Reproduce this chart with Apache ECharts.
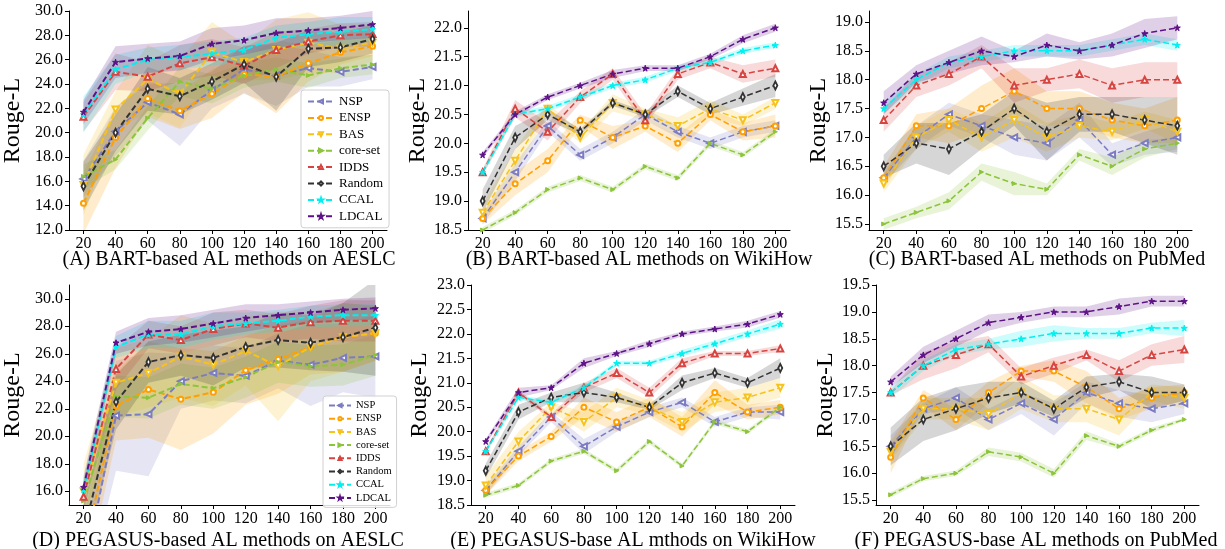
<!DOCTYPE html>
<html>
<head>
<meta charset="utf-8">
<script src="https://cdn.jsdelivr.net/npm/echarts@6/dist/echarts.min.js"></script>
<style>
  html, body { margin: 0; padding: 0; background: #fff; }
  #main { width: 1225px; height: 549px; }
</style>
</head>
<body>
<div id="main"></div>
<script>
// budget on x, one row per method (NSP, ENSP, BAS, core-set, IDDS, Random, CCAL, LDCAL)
const xValues = [20, 40, 60, 80, 100, 120, 140, 160, 180, 200];
const methods = ['NSP', 'ENSP', 'BAS', 'core-set', 'IDDS', 'Random', 'CCAL', 'LDCAL'];

const bartAeslcMean = [
  [16.2, 20.1, 22.5, 21.5, 23.5, 25.2, 24.7, 25.3, 25.0, 25.4],
  [14.2, 19.6, 22.8, 21.8, 23.2, 24.8, 24.6, 25.7, 26.6, 27.1],
  [15.7, 21.9, 24.4, 23.2, 26.6, 25.8, 26.8, 27.4, 26.9, 27.4],
  [16.4, 17.8, 21.2, 24.2, 23.6, 24.7, 25.2, 24.7, 25.3, 25.6],
  [21.3, 25.0, 24.6, 25.7, 26.2, 25.5, 26.8, 27.5, 28.0, 28.1],
  [15.6, 20.0, 23.6, 23.0, 24.2, 25.6, 24.6, 26.9, 27.0, 27.7],
  [21.5, 25.2, 26.0, 26.2, 26.5, 26.8, 27.8, 28.1, 28.3, 28.5],
  [21.7, 25.8, 26.1, 26.3, 27.3, 27.6, 28.2, 28.4, 28.6, 28.9]
];
const bartAeslcSpread = [
  [1.5, 2.0, 1.5, 2.6, 1.5, 2.0, 2.5, 1.5, 1.2, 1.0],
  [2.5, 2.5, 1.5, 1.5, 2.0, 1.5, 3.0, 1.5, 1.0, 0.8],
  [2.5, 1.5, 2.8, 2.8, 2.5, 1.5, 2.5, 2.5, 2.0, 1.5],
  [1.0, 0.8, 1.0, 1.2, 1.2, 1.0, 1.0, 1.0, 0.8, 0.8],
  [1.2, 1.5, 1.2, 1.5, 1.5, 1.5, 1.5, 1.0, 1.0, 1.0],
  [2.0, 1.5, 1.8, 1.5, 1.5, 1.5, 2.8, 1.5, 1.2, 1.2],
  [1.5, 1.2, 1.0, 1.0, 1.0, 1.0, 1.0, 1.0, 1.2, 1.0],
  [1.0, 1.3, 1.2, 1.2, 1.3, 1.2, 1.2, 1.0, 1.0, 1.1]
];

const bartWikiMean = [
  [18.7, 19.5, 20.3, 19.8, 20.1, 20.5, 20.2, 20.0, 20.2, 20.3],
  [18.7, 19.3, 19.7, 20.4, 20.1, 20.3, 20.0, 20.5, 20.2, 20.3],
  [18.8, 19.7, 20.6, 20.1, 20.7, 20.5, 20.3, 20.6, 20.4, 20.7],
  [18.5, 18.8, 19.2, 19.4, 19.2, 19.6, 19.4, 20.0, 19.8, 20.2],
  [19.5, 20.6, 20.2, 20.8, 21.2, 20.4, 21.2, 21.4, 21.2, 21.3],
  [19.0, 20.1, 20.5, 20.2, 20.7, 20.5, 20.9, 20.6, 20.8, 21.0],
  [19.5, 20.5, 20.6, 20.8, 21.0, 21.1, 21.3, 21.4, 21.6, 21.7],
  [19.8, 20.5, 20.8, 21.0, 21.2, 21.3, 21.3, 21.5, 21.8, 22.0]
];
const bartWikiSpread = [
  [0.1, 0.15, 0.1, 0.1, 0.1, 0.1, 0.1, 0.1, 0.1, 0.1],
  [0.1, 0.2, 0.2, 0.1, 0.2, 0.1, 0.15, 0.1, 0.15, 0.2],
  [0.15, 0.2, 0.1, 0.1, 0.15, 0.1, 0.15, 0.15, 0.1, 0.1],
  [0.05, 0.05, 0.05, 0.05, 0.05, 0.05, 0.05, 0.05, 0.05, 0.05],
  [0.05, 0.15, 0.15, 0.1, 0.1, 0.1, 0.1, 0.1, 0.15, 0.15],
  [0.2, 0.2, 0.1, 0.05, 0.05, 0.05, 0.1, 0.1, 0.15, 0.2],
  [0.05, 0.05, 0.05, 0.05, 0.05, 0.05, 0.05, 0.05, 0.05, 0.05],
  [0.05, 0.05, 0.05, 0.05, 0.07, 0.05, 0.05, 0.05, 0.07, 0.07]
];

const bartPubmedMean = [
  [16.3, 17.0, 17.4, 17.2, 17.0, 16.9, 17.3, 16.7, 16.9, 17.0],
  [16.3, 17.2, 17.2, 17.5, 17.8, 17.5, 17.5, 17.3, 17.2, 17.3],
  [16.2, 17.0, 17.3, 17.0, 17.3, 17.0, 17.2, 17.1, 17.3, 17.1],
  [15.5, 15.7, 15.9, 16.4, 16.2, 16.1, 16.7, 16.5, 16.8, 16.9],
  [17.3, 17.9, 18.1, 18.4, 17.9, 18.0, 18.1, 17.9, 18.0, 18.0],
  [16.5, 16.9, 16.8, 17.1, 17.5, 17.1, 17.4, 17.4, 17.3, 17.2],
  [17.5, 18.0, 18.3, 18.4, 18.5, 18.5, 18.5, 18.6, 18.7, 18.6],
  [17.6, 18.1, 18.3, 18.5, 18.4, 18.6, 18.5, 18.6, 18.8, 18.9]
];
const bartPubmedSpread = [
  [0.1, 0.2, 0.2, 0.2, 0.3, 0.3, 0.3, 0.2, 0.2, 0.25],
  [0.2, 0.2, 0.3, 0.4, 0.4, 0.3, 0.3, 0.3, 0.3, 0.4],
  [0.15, 0.2, 0.2, 0.25, 0.3, 0.25, 0.2, 0.15, 0.15, 0.2],
  [0.1, 0.1, 0.15, 0.15, 0.2, 0.1, 0.1, 0.15, 0.15, 0.1],
  [0.2, 0.2, 0.2, 0.2, 0.3, 0.2, 0.25, 0.3, 0.3, 0.3],
  [0.2, 0.35, 0.45, 0.3, 0.3, 0.5, 0.3, 0.3, 0.4, 0.5],
  [0.1, 0.1, 0.1, 0.1, 0.1, 0.1, 0.1, 0.1, 0.1, 0.1],
  [0.2, 0.15, 0.2, 0.25, 0.1, 0.2, 0.15, 0.2, 0.25, 0.2]
];

const pegAeslcMean = [
  [10.0, 21.5, 21.6, 24.0, 24.6, 24.4, 25.5, 25.2, 25.7, 25.8],
  [11.5, 22.2, 23.4, 22.7, 23.2, 24.8, 25.6, 26.5, 27.2, 27.5],
  [16.0, 23.9, 24.6, 25.8, 25.2, 26.2, 25.1, 26.5, 27.2, 27.5],
  [15.3, 22.9, 22.8, 23.8, 23.5, 24.3, 25.4, 25.1, 25.2, 25.9],
  [15.6, 24.9, 27.4, 27.0, 27.8, 28.2, 27.9, 28.3, 28.4, 28.4],
  [13.0, 22.5, 25.4, 25.9, 25.7, 26.5, 27.0, 26.8, 27.2, 27.9],
  [16.1, 26.5, 27.4, 27.4, 28.0, 28.2, 28.4, 28.7, 28.8, 28.8],
  [16.3, 26.8, 27.6, 27.8, 28.2, 28.6, 28.8, 29.0, 29.2, 29.3]
];
const pegAeslcSpread = [
  [2.0, 4.0, 4.5, 2.0, 2.0, 2.0, 2.0, 3.0, 2.5, 3.0],
  [2.5, 2.5, 3.5, 3.7, 3.0, 2.5, 2.5, 2.0, 2.5, 2.0],
  [2.0, 2.5, 2.5, 3.0, 3.0, 2.5, 4.0, 2.5, 2.5, 2.0],
  [1.5, 1.5, 1.5, 1.5, 1.5, 1.5, 1.5, 1.5, 1.5, 1.5],
  [1.0, 1.5, 1.0, 1.0, 1.2, 1.0, 1.0, 1.2, 1.5, 1.5],
  [2.0, 2.0, 1.5, 1.5, 2.0, 1.5, 2.0, 2.0, 2.5, 3.5],
  [0.8, 0.8, 1.0, 1.0, 1.0, 0.8, 0.8, 0.8, 0.8, 0.8],
  [0.8, 0.8, 1.0, 1.0, 1.0, 1.0, 0.8, 0.8, 0.8, 0.8]
];

const pegWikiMean = [
  [18.8, 19.6, 20.3, 19.7, 20.1, 20.4, 20.6, 20.2, 20.4, 20.4],
  [18.8, 19.5, 19.9, 20.5, 20.2, 20.5, 20.1, 20.8, 20.4, 20.5],
  [18.9, 19.8, 20.5, 20.2, 20.7, 20.5, 20.2, 20.6, 20.7, 20.9],
  [18.7, 18.9, 19.4, 19.6, 19.2, 19.8, 19.3, 20.2, 20.0, 20.5],
  [19.6, 20.8, 20.3, 20.9, 21.2, 20.8, 21.4, 21.6, 21.6, 21.7],
  [19.2, 20.4, 20.7, 20.8, 20.7, 20.5, 21.0, 21.2, 21.0, 21.3],
  [19.6, 20.7, 20.6, 20.9, 21.4, 21.4, 21.6, 21.8, 22.0, 22.2],
  [19.8, 20.8, 20.9, 21.4, 21.6, 21.8, 22.0, 22.1, 22.2, 22.4]
];
const pegWikiSpread = [
  [0.1, 0.1, 0.1, 0.15, 0.1, 0.1, 0.1, 0.1, 0.1, 0.15],
  [0.1, 0.1, 0.1, 0.2, 0.2, 0.2, 0.2, 0.25, 0.15, 0.15],
  [0.2, 0.2, 0.1, 0.2, 0.2, 0.15, 0.2, 0.2, 0.2, 0.2],
  [0.05, 0.05, 0.05, 0.05, 0.05, 0.05, 0.05, 0.05, 0.05, 0.05],
  [0.05, 0.05, 0.05, 0.1, 0.1, 0.1, 0.1, 0.05, 0.05, 0.07],
  [0.15, 0.15, 0.1, 0.2, 0.1, 0.05, 0.15, 0.1, 0.1, 0.2],
  [0.05, 0.05, 0.05, 0.05, 0.05, 0.05, 0.07, 0.07, 0.07, 0.1],
  [0.05, 0.1, 0.05, 0.1, 0.05, 0.07, 0.05, 0.05, 0.07, 0.07]
];

const pegPubmedMean = [
  [16.5, 17.2, 17.4, 17.0, 17.3, 17.0, 17.5, 17.3, 17.2, 17.3],
  [16.3, 17.4, 17.0, 17.5, 17.9, 17.9, 17.6, 17.2, 17.4, 17.5],
  [16.4, 17.2, 17.2, 17.1, 17.5, 17.2, 17.2, 17.0, 17.5, 17.4],
  [15.6, 15.9, 16.0, 16.4, 16.3, 16.0, 16.7, 16.5, 16.8, 17.0],
  [17.5, 18.0, 18.2, 18.4, 17.8, 18.0, 18.2, 17.9, 18.2, 18.3],
  [16.5, 17.0, 17.2, 17.4, 17.5, 17.2, 17.6, 17.7, 17.5, 17.5],
  [17.5, 18.0, 18.3, 18.4, 18.5, 18.6, 18.6, 18.6, 18.7, 18.7],
  [17.7, 18.2, 18.5, 18.8, 18.9, 19.0, 19.0, 19.1, 19.2, 19.2]
];
const pegPubmedSpread = [
  [0.2, 0.1, 0.2, 0.2, 0.2, 0.3, 0.2, 0.25, 0.25, 0.2],
  [0.3, 0.15, 0.2, 0.2, 0.1, 0.2, 0.3, 0.2, 0.2, 0.15],
  [0.15, 0.2, 0.2, 0.3, 0.3, 0.25, 0.25, 0.3, 0.15, 0.2],
  [0.05, 0.05, 0.05, 0.08, 0.08, 0.08, 0.08, 0.05, 0.05, 0.03],
  [0.05, 0.25, 0.25, 0.15, 0.15, 0.15, 0.1, 0.2, 0.2, 0.25],
  [0.35, 0.4, 0.4, 0.3, 0.2, 0.15, 0.2, 0.15, 0.3, 0.15],
  [0.1, 0.1, 0.1, 0.1, 0.15, 0.15, 0.1, 0.1, 0.1, 0.15],
  [0.1, 0.15, 0.15, 0.15, 0.1, 0.1, 0.1, 0.15, 0.1, 0.1]
];

const yTicksA = [12, 14, 16, 18, 20, 22, 24, 26, 28, 30];
const yTicksB = [18.5, 19, 19.5, 20, 20.5, 21, 21.5, 22];
const yTicksC = [15.5, 16, 16.5, 17, 17.5, 18, 18.5, 19];
const yTicksD = [16, 18, 20, 22, 24, 26, 28, 30];
const yTicksE = [18.5, 19, 19.5, 20, 20.5, 21, 21.5, 22, 22.5, 23];
const yTicksF = [15.5, 16, 16.5, 17, 17.5, 18, 18.5, 19, 19.5];

const colors = ['#7c7cc2', '#ffa000', '#f6c21c', '#8cc43c', '#d64541', '#333333', '#00f0f0', '#5e1287'];
const star = 'path://M50,0 L61,35 L98,35 L68,57 L79,91 L50,70 L21,91 L32,57 L2,35 L39,35 Z';
const symbols = [
  { symbol: 'emptyTriangle', size: 6, rotate: 90 },
  { symbol: 'emptyCircle', size: 5, rotate: 0 },
  { symbol: 'emptyTriangle', size: 6, rotate: 180 },
  { symbol: 'triangle', size: 4, rotate: -90 },
  { symbol: 'emptyTriangle', size: 6, rotate: 0 },
  { symbol: 'emptyDiamond', size: [4, 8], rotate: 0 },
  { symbol: star, size: 6, rotate: 0 },
  { symbol: star, size: 6, rotate: 0 }
];

const serif = '"Liberation Serif", "DejaVu Serif", serif';

const panels = [
  { mean: bartAeslcMean, spread: bartAeslcSpread, yTicks: yTicksA, yMin: 12, yMax: 30,
    grid: { left: 66, top: 11, width: 321, height: 219 }, lw: 2, gap: 44,
    title: '(A) BART-based AL methods on AESLC', tx: 229, ty: 260 },
  { mean: bartWikiMean, spread: bartWikiSpread, yTicks: yTicksB, yMin: 18.5, yMax: 22.29,
    grid: { left: 468, top: 11, width: 322, height: 219 }, lw: 1.5, gap: 37,
    title: '(B) BART-based AL methods on WikiHow', tx: 639, ty: 260 },
  { mean: bartPubmedMean, spread: bartPubmedSpread, yTicks: yTicksC, yMin: 15.396, yMax: 19.19,
    grid: { left: 869, top: 11, width: 323, height: 219 }, lw: 1.5, gap: 34,
    title: '(C) BART-based AL methods on PubMed', tx: 1037, ty: 260 },
  { mean: pegAeslcMean, spread: pegAeslcSpread, yTicks: yTicksD, yMin: 15, yMax: 31,
    grid: { left: 66, top: 285, width: 324, height: 220 }, lw: 2, gap: 44,
    title: '(D) PEGASUS-based AL methods on AESLC', tx: 218, ty: 541 },
  { mean: pegWikiMean, spread: pegWikiSpread, yTicks: yTicksE, yMin: 18.5, yMax: 23,
    grid: { left: 471, top: 285, width: 324, height: 220 }, lw: 1.5, gap: 39,
    title: '(E) PEGASUS-base AL mthods on WikiHow', tx: 633, ty: 541 },
  { mean: pegPubmedMean, spread: pegPubmedSpread, yTicks: yTicksF, yMin: 15.41, yMax: 19.5,
    grid: { left: 876, top: 285, width: 323, height: 220 }, lw: 1.5, gap: 37,
    title: '(F) PEGASUS-base AL methods on PubMed', tx: 1036, ty: 541 }
];

const chart = echarts.init(document.getElementById('main'));

const grid = [], xAxis = [], yAxis = [], series = [], graphic = [];
const axisLine = { show: true, lineStyle: { color: '#000', width: 1 } };

// one polygon per band, corners placed through the axes with api.coord
function bandRenderer(rows, color) {
  return function (params, api) {
    if (params.dataIndex !== 0) return null;
    const upper = rows.map(r => api.coord([r[0], r[2]]));
    const lower = rows.map(r => api.coord([r[0], r[1]])).reverse();
    return {
      type: 'polygon',
      shape: { points: upper.concat(lower) },
      style: { fill: color, opacity: 0.2 }
    };
  };
}

panels.forEach((p, k) => {
  grid.push(p.grid);
  xAxis.push({
    type: 'value', gridIndex: k, min: 11, max: 209,
    axisLine: axisLine, splitLine: { show: false },
    axisTick: { show: true, length: 4, customValues: xValues, lineStyle: { color: '#000' } },
    axisLabel: { customValues: xValues, margin: 6, color: '#000', fontFamily: serif, fontSize: 16 }
  });
  yAxis.push({
    type: 'value', gridIndex: k, min: p.yMin, max: p.yMax,
    name: 'Rouge-L', nameLocation: 'middle', nameGap: p.gap, nameRotate: 90,
    nameTextStyle: { color: '#000', fontFamily: serif, fontSize: 24 },
    axisLine: axisLine, splitLine: { show: false },
    axisTick: { show: true, length: 4, customValues: p.yTicks, lineStyle: { color: '#000' } },
    axisLabel: { customValues: p.yTicks, margin: 6, color: '#000', fontFamily: serif, fontSize: 16,
      formatter: v => v.toFixed(1) }
  });

  methods.forEach((m, i) => {
    const mean = p.mean[i], spread = p.spread[i];
    const rows = xValues.map((x, j) => [x, mean[j] - spread[j], mean[j] + spread[j]]);
    series.push({
      type: 'custom', xAxisIndex: k, yAxisIndex: k, silent: true, z: 1, clip: true,
      encode: { x: 0, y: [1, 2] },
      renderItem: bandRenderer(rows, colors[i]),
      data: rows
    });
    series.push({
      name: m, type: 'line', xAxisIndex: k, yAxisIndex: k, z: 3,
      symbol: symbols[i].symbol, symbolSize: symbols[i].size, symbolRotate: symbols[i].rotate,
      showAllSymbol: true,
      lineStyle: { color: colors[i], width: p.lw, type: [6, 3] },
      itemStyle: { color: colors[i], borderColor: colors[i], borderWidth: 1 },
      data: xValues.map((x, j) => [x, mean[j]])
    });
  });

  graphic.push({
    type: 'text', x: p.tx, y: p.ty,
    style: { text: p.title, align: 'center', verticalAlign: 'middle',
      font: '20px ' + serif, fill: '#000' }
  });
});

chart.setOption({
  animation: false,
  backgroundColor: '#fff',
  grid: grid,
  xAxis: xAxis,
  yAxis: yAxis,
  legend: [
    {
      data: methods, orient: 'vertical', left: 301, top: 90,
      itemWidth: 26, itemHeight: 5, itemGap: 3.4, padding: [5, 6],
      backgroundColor: 'rgba(255,255,255,0.85)', borderColor: '#d0d0d0', borderWidth: 1, borderRadius: 3,
      textStyle: { fontFamily: serif, fontSize: 13, color: '#000' }
    },
    {
      data: methods, orient: 'vertical', left: 323, top: 396,
      itemWidth: 22, itemHeight: 4, itemGap: 2.2, padding: [4, 5],
      backgroundColor: 'rgba(255,255,255,0.85)', borderColor: '#d0d0d0', borderWidth: 1, borderRadius: 3,
      textStyle: { fontFamily: serif, fontSize: 10.5, color: '#000' }
    }
  ],
  graphic: graphic,
  series: series
});
</script>
</body>
</html>
